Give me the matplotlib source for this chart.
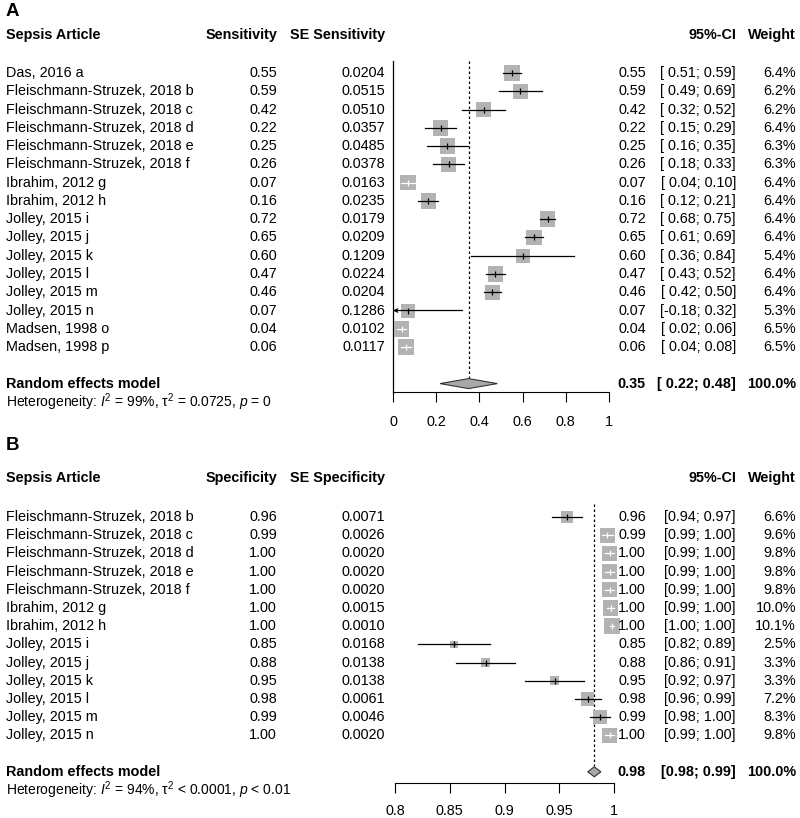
import numpy as np
import matplotlib.pyplot as plt
import matplotlib.transforms as mtransforms
from matplotlib.patches import Polygon
from matplotlib.ticker import FormatStrFormatter

plt.rcParams["font.family"] = ["Liberation Sans", "DejaVu Sans"]
plt.rcParams["font.size"] = 10.4
plt.rcParams["mathtext.fontset"] = "custom"
plt.rcParams["mathtext.rm"] = "Liberation Sans"
plt.rcParams["mathtext.it"] = "Liberation Sans:italic"
plt.rcParams["mathtext.bf"] = "Liberation Sans:bold"

# ---- panel A: sensitivity ----
sens_studies = [
    "Das, 2016 a", "Fleischmann-Struzek, 2018 b", "Fleischmann-Struzek, 2018 c",
    "Fleischmann-Struzek, 2018 d", "Fleischmann-Struzek, 2018 e", "Fleischmann-Struzek, 2018 f",
    "Ibrahim, 2012 g", "Ibrahim, 2012 h", "Jolley, 2015 i", "Jolley, 2015 j", "Jolley, 2015 k",
    "Jolley, 2015 l", "Jolley, 2015 m", "Jolley, 2015 n", "Madsen, 1998 o", "Madsen, 1998 p",
]
sens_est = [0.551, 0.590, 0.420, 0.220, 0.252, 0.257, 0.070, 0.164,
            0.716, 0.652, 0.600, 0.474, 0.460, 0.070, 0.040, 0.060]
sens_se = [0.0204, 0.0515, 0.0510, 0.0357, 0.0485, 0.0378, 0.0163, 0.0235,
           0.0179, 0.0209, 0.1209, 0.0224, 0.0204, 0.1286, 0.0102, 0.0117]
sens_lo = [0.511, 0.489, 0.320, 0.150, 0.157, 0.183, 0.038, 0.118,
           0.681, 0.611, 0.363, 0.430, 0.420, -0.182, 0.020, 0.037]
sens_hi = [0.591, 0.691, 0.520, 0.290, 0.347, 0.331, 0.102, 0.210,
           0.751, 0.693, 0.837, 0.518, 0.500, 0.322, 0.060, 0.083]
sens_weight = [6.4, 6.2, 6.2, 6.4, 6.3, 6.3, 6.4, 6.4, 6.4, 6.4, 5.4, 6.4, 6.4, 5.3, 6.5, 6.5]
sens_pooled = [0.35, 0.218, 0.483]
sens_het = (r"Heterogeneity: $\mathit{I}^2$ = 99%, $\mathrm{\tau}^2$ = 0.0725, "
            r"$\mathit{p}$ = 0")
sens_ticks = [0, 0.2, 0.4, 0.6, 0.8, 1]

# ---- panel B: specificity ----
spec_studies = [
    "Fleischmann-Struzek, 2018 b", "Fleischmann-Struzek, 2018 c", "Fleischmann-Struzek, 2018 d",
    "Fleischmann-Struzek, 2018 e", "Fleischmann-Struzek, 2018 f", "Ibrahim, 2012 g",
    "Ibrahim, 2012 h", "Jolley, 2015 i", "Jolley, 2015 j", "Jolley, 2015 k",
    "Jolley, 2015 l", "Jolley, 2015 m", "Jolley, 2015 n",
]
spec_est = [0.957, 0.994, 0.996, 0.996, 0.996, 0.997, 0.998,
            0.854, 0.883, 0.946, 0.976, 0.987, 0.996]
spec_se = [0.0071, 0.0026, 0.0020, 0.0020, 0.0020, 0.0015, 0.0010,
           0.0168, 0.0138, 0.0138, 0.0061, 0.0046, 0.0020]
spec_lo = [0.943, 0.989, 0.992, 0.992, 0.992, 0.994, 0.996,
           0.821, 0.856, 0.919, 0.964, 0.978, 0.992]
spec_hi = [0.971, 0.999, 1.000, 1.000, 1.000, 1.000, 1.000,
           0.887, 0.910, 0.973, 0.988, 0.996, 1.000]
spec_weight = [6.6, 9.6, 9.8, 9.8, 9.8, 10.0, 10.1, 2.5, 3.3, 3.3, 7.2, 8.3, 9.8]
spec_pooled = [0.982, 0.976, 0.988]
spec_het = (r"Heterogeneity: $\mathit{I}^2$ = 94%, $\mathrm{\tau}^2$ < 0.0001, "
            r"$\mathit{p}$ < 0.01")
spec_ticks = [0.8, 0.85, 0.9, 0.95, 1]

W, H = 800, 818
fig = plt.figure(figsize=(W / 100, H / 100), dpi=100)

SQ_GRAY = "#b3b3b3"
X_STUDY, X_VAL, X_SE, X_EST, X_CI, X_W = 6, 277, 385, 646, 736, 796


def draw_panel(letter, letter_px, x_px, xlim, top_px, axis_px, row0_px, step,
               studies, est, se, lo, hi, weight, pooled, het, col_name, ticks,
               ref_line, tick_pad):
    ax = fig.add_axes([x_px[0] / W, 1 - axis_px / H,
                       (x_px[1] - x_px[0]) / W, (axis_px - top_px) / H])
    ax.set_xlim(*xlim)
    ax.set_ylim((axis_px - row0_px) / step, (top_px - row0_px) / step)
    ax.set_facecolor("none")
    for s in ["top", "left", "right"]:
        ax.spines[s].set_visible(False)
    ax.spines["bottom"].set_bounds(*xlim)
    ax.spines["bottom"].set_linewidth(0.8)
    ax.set_yticks([])
    ax.set_xticks(ticks)
    ax.xaxis.set_major_formatter(FormatStrFormatter("%g"))
    ax.tick_params(axis="x", direction="out", length=7, width=0.8, pad=tick_pad,
                   labelsize=10.4)

    ppu = (x_px[1] - x_px[0]) / (xlim[1] - xlim[0])
    trans = mtransforms.blended_transform_factory(fig.transFigure, ax.transData)
    n = len(studies)
    rows = np.arange(n)
    r_head = (top_px - row0_px) / step
    r_pool = n + 1
    r_het = n + 2
    r_top = r_head + 1.42
    r_axis = (axis_px - row0_px) / step

    fig.text(X_STUDY / W, 1 - letter_px / H, letter, fontsize=13.5,
             fontweight="bold", va="center", ha="left")

    # header
    hkw = dict(transform=trans, fontweight="bold", va="center", clip_on=False)
    ax.text(X_STUDY / W, r_head, "Sepsis Article", ha="left", **hkw)
    ax.text(X_VAL / W, r_head, col_name, ha="right", **hkw)
    ax.text(X_SE / W, r_head, "SE " + col_name, ha="right", **hkw)
    ax.text(X_CI / W, r_head, "95%-CI", ha="right", **hkw)
    ax.text(X_W / W, r_head, "Weight", ha="right", **hkw)

    # reference and pooled lines
    if ref_line is not None:
        ax.plot([ref_line, ref_line], [r_top, r_axis], color="black", lw=0.9,
                clip_on=False)
    ax.plot([pooled[0], pooled[0]], [r_top, r_pool - 0.3], color="black", lw=0.9,
            ls=(0, (2, 2)), clip_on=False)

    # squares
    side = 15.5 * np.sqrt(np.array(weight) / max(weight))
    ax.scatter(est, rows, s=(side * 0.72) ** 2, marker="s", color=SQ_GRAY,
               linewidths=0, zorder=2, clip_on=False)

    ci_neg = min(lo) < 0
    for i in range(n):
        half = side[i] / 2 - 0.6
        inside = (est[i] - lo[i]) * ppu <= half and (hi[i] - est[i]) * ppu <= half
        c = "white" if inside else "black"
        if lo[i] < xlim[0]:
            ax.annotate("", xy=(xlim[0], i), xytext=(hi[i], i),
                        arrowprops=dict(arrowstyle="->", lw=0.9, color=c,
                                        shrinkA=0, shrinkB=0,
                                        mutation_scale=6), zorder=3)
        else:
            ax.plot([lo[i], hi[i]], [i, i], color=c, lw=0.9, zorder=3, clip_on=False)
        ax.plot([est[i]], [i], marker="|", ms=4.5, mew=0.9, color=c, zorder=3,
                clip_on=False)

        tkw = dict(transform=trans, va="center", clip_on=False)
        ax.text(X_STUDY / W, i, studies[i], ha="left", **tkw)
        ax.text(X_VAL / W, i, f"{est[i]:.2f}", ha="right", **tkw)
        ax.text(X_SE / W, i, f"{se[i]:.4f}", ha="right", **tkw)
        ax.text(X_EST / W, i, f"{est[i]:.2f}", ha="right", **tkw)
        if ci_neg:
            ci = f"[{lo[i]:5.2f}; {hi[i]:.2f}]"
        else:
            ci = f"[{lo[i]:.2f}; {hi[i]:.2f}]"
        ax.text(X_CI / W, i, ci, ha="right", **tkw)
        ax.text(X_W / W, i, f"{weight[i]:.1f}%", ha="right", **tkw)

    # pooled diamond
    h = 5 / step
    ax.add_patch(Polygon([(pooled[1], r_pool), (pooled[0], r_pool - h),
                          (pooled[2], r_pool), (pooled[0], r_pool + h)],
                         closed=True, facecolor="#a8a8a8", edgecolor="#333333",
                         lw=0.8, zorder=4, clip_on=False))
    bkw = dict(transform=trans, va="center", fontweight="bold", clip_on=False)
    ax.text(X_STUDY / W, r_pool, "Random effects model", ha="left", **bkw)
    ax.text(X_EST / W, r_pool, f"{pooled[0]:.2f}", ha="right", **bkw)
    if ci_neg:
        pci = f"[{pooled[1]:5.2f}; {pooled[2]:.2f}]"
    else:
        pci = f"[{pooled[1]:.2f}; {pooled[2]:.2f}]"
    ax.text(X_CI / W, r_pool, pci, ha="right", **bkw)
    ax.text(X_W / W, r_pool, "100.0%", ha="right", **bkw)
    ax.text(X_STUDY / W, r_het, het, ha="left", transform=trans, va="center",
            fontsize=10, clip_on=False)
    return ax


draw_panel("A", 12, (393, 609), (0, 1), 35, 392, 73, 18.27,
           sens_studies, sens_est, sens_se, sens_lo, sens_hi, sens_weight,
           sens_pooled, sens_het, "Sensitivity", sens_ticks, 0, 9.5)
draw_panel("B", 445, (395, 614), (0.8, 1), 478, 783, 517, 18.2,
           spec_studies, spec_est, spec_se, spec_lo, spec_hi, spec_weight,
           spec_pooled, spec_het, "Specificity", spec_ticks, None, 8)

fig.savefig("out.png", dpi=100, facecolor="white")
